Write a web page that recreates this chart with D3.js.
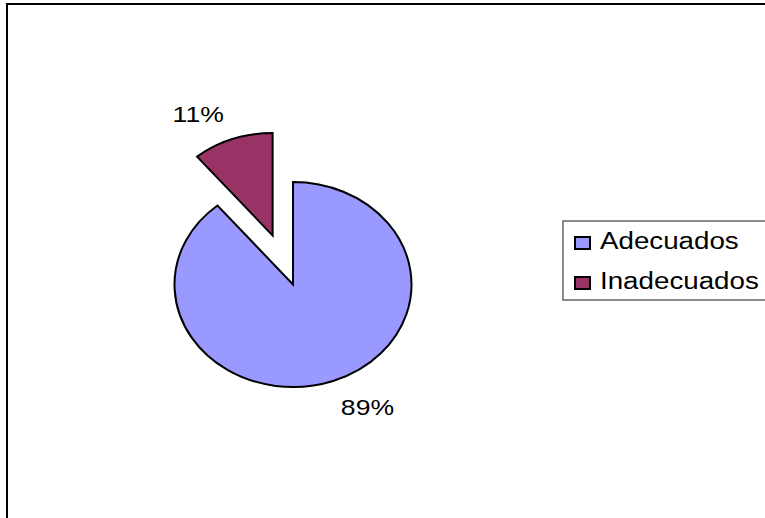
<!DOCTYPE html>
<html>
<head>
<meta charset="utf-8">
<script src="https://cdn.jsdelivr.net/npm/d3@7"></script>
<style>
    body { margin: 0; background: #fff; }
    text { font-family: "Liberation Sans", Arial, sans-serif; fill: #000; }
</style>
</head>
<body>
<svg id="chart"></svg>
<script>
// chart data
const categories = ["Adecuados", "Inadecuados"];
const values = [89, 11];
const labels = ["89%", "11%"];
const colors = ["#9999FF", "#993366"];
const exploded = [false, true];

const width = 765, height = 518;
const cx = 293, cy = 284.5;
const radius = 102.5;
const stretch = 1.156;      // the picture is wider than tall
const explodeBy = 52;
const labelRadius = 138;

const svg = d3.select("#chart")
    .attr("width", width)
    .attr("height", height);

svg.append("rect")
    .attr("x", 7).attr("y", 4)
    .attr("width", 820).attr("height", 600)
    .attr("fill", "#fff")
    .attr("stroke", "#000")
    .attr("stroke-width", 2);

const pie = d3.pie().sort(null).value(function(d) { return d; });
const arcs = pie(values);
const arc = d3.arc().innerRadius(0).outerRadius(radius);

function midAngle(d) { return (d.startAngle + d.endAngle) / 2; }

const g = svg.append("g")
    .attr("transform", "translate(" + cx + "," + cy + ") scale(" + stretch + ",1)");

g.selectAll(".slice")
    .data(arcs)
    .enter().append("path")
    .attr("class", "slice")
    .attr("d", arc)
    .attr("fill", function(d, i) { return colors[i]; })
    .attr("stroke", "#000")
    .attr("stroke-width", 2)
    .attr("stroke-linejoin", "miter")
    .attr("vector-effect", "non-scaling-stroke")
    .attr("transform", function(d, i) {
        if (!exploded[i]) return null;
        const a = midAngle(d);
        return "translate(" + (Math.sin(a) * explodeBy) + "," + (-Math.cos(a) * explodeBy) + ")";
    });

// percent labels, outside the slices
svg.selectAll(".pct")
    .data(arcs)
    .enter().append("text")
    .attr("class", "pct")
    .attr("text-anchor", "middle")
    .attr("dy", "0.36em")
    .style("font-size", "23px")
    .attr("transform", function(d, i) {
        const a = midAngle(d) - 0.14;
        const off = exploded[i] ? explodeBy : 0;
        const m = midAngle(d);
        const x = cx + (Math.sin(a) * labelRadius + Math.sin(m) * off) * stretch;
        const y = cy - Math.cos(a) * labelRadius - Math.cos(m) * off;
        return "translate(" + x + "," + y + ") scale(" + stretch + ",1)";
    })
    .text(function(d, i) { return labels[i]; });

// legend
const legend = svg.append("g").attr("class", "legend");

legend.append("rect")
    .attr("x", 563).attr("y", 221)
    .attr("width", 240).attr("height", 79)
    .attr("fill", "#fff")
    .attr("stroke", "#666")
    .attr("stroke-width", 1.5);

const item = legend.selectAll(".item")
    .data(categories)
    .enter().append("g")
    .attr("class", "item")
    .attr("transform", function(d, i) { return "translate(575," + (237 + i * 40) + ")"; });

item.append("rect")
    .attr("width", 15).attr("height", 12)
    .attr("fill", function(d, i) { return colors[i]; })
    .attr("stroke", "#000")
    .attr("stroke-width", 2);

item.append("text")
    .attr("transform", "translate(25,12) scale(" + stretch + ",1)")
    .style("font-size", "24px")
    .text(function(d) { return d; });
</script>
</body>
</html>
